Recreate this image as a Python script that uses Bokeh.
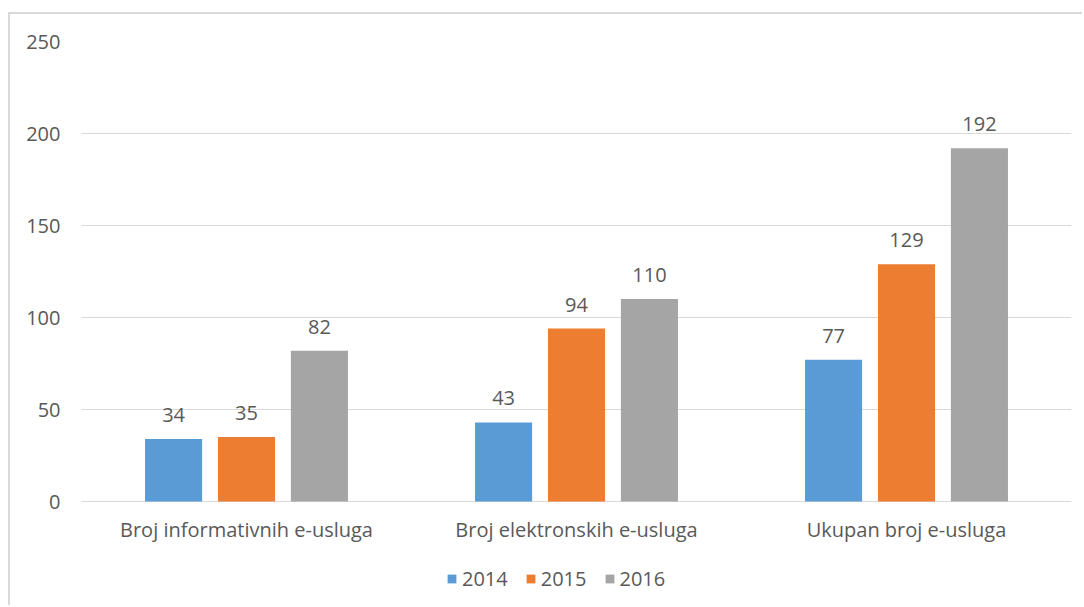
from bokeh.plotting import figure
from bokeh.models import ColumnDataSource, FactorRange, Legend, LegendItem, Range1d, FixedTicker
from bokeh.transform import dodge
from bokeh.core.properties import value
from bokeh.embed import file_html
from bokeh.resources import INLINE

categories = ["Broj informativnih e-usluga", "Broj elektronskih e-usluga", "Ukupan broj e-usluga"]
years = ["2014", "2015", "2016"]
v2014 = [34, 43, 77]
v2015 = [35, 94, 129]
v2016 = [82, 110, 192]
y_ticks = [0, 50, 100, 150, 200, 250]

colors = ["#5B9BD5", "#ED7D31", "#A5A5A5"]
FONT = "Open Sans"
FS = "20px"
TXT = "#595959"

src = ColumnDataSource(dict(
    cat=categories,
    zero=[0] * len(categories),
    v2014=v2014, v2015=v2015, v2016=v2016,
    l2014=[str(v) for v in v2014],
    l2015=[str(v) for v in v2015],
    l2016=[str(v) for v in v2016],
))

# frame extends below the zero line to leave room for category labels and legend
p = figure(width=1074, height=593, x_range=FactorRange(*categories, range_padding=0),
           y_range=Range1d(-57.6, 250), output_backend="svg", toolbar_location=None,
           x_axis_location=None,
           min_border_left=71, min_border_right=13, min_border_top=27, min_border_bottom=0)
p.styles = {"border-left": "2px solid #d9d9d9", "border-top": "2px solid #d9d9d9",
            "margin-top": "12px", "margin-left": "8px"}

p.outline_line_color = None
p.xgrid.grid_line_color = None
p.ygrid.grid_line_color = "#d9d9d9"
p.ygrid.grid_line_width = 1
p.yaxis.ticker = FixedTicker(ticks=y_ticks)
ax = p.yaxis[0]
ax.axis_line_color = None
ax.major_tick_line_color = None
ax.minor_tick_line_color = None
ax.major_tick_out = 0
ax.major_tick_in = 0
ax.major_label_text_font = FONT
ax.major_label_text_font_size = FS
ax.major_label_text_color = TXT
ax.major_label_standoff = 21

# category labels under the zero line
p.text(x="cat", y="zero", text="cat", source=src, text_align="center",
       text_baseline="alphabetic", y_offset=28,
       text_font=value(FONT), text_font_size=FS, text_color=TXT)

offs = [-0.221, 0.0, 0.221]
renderers = []
for yr, off, col in zip(years, offs, colors):
    r = p.vbar(x=dodge("cat", off, range=p.x_range), top="v" + yr, width=0.173,
               source=src, color=col, line_color=None)
    renderers.append(r)
    p.text(x=dodge("cat", off, range=p.x_range), y="v" + yr, text="l" + yr, source=src,
           text_align="center", text_baseline="alphabetic", y_offset=-24,
           text_font=value(FONT), text_font_size=FS, text_color=TXT)

legend = Legend(items=[LegendItem(label=yr, renderers=[r]) for yr, r in zip(years, renderers)],
                orientation="horizontal", location=(365, 15),
                glyph_width=11, glyph_height=11, label_text_font=FONT,
                label_text_font_size=FS, label_text_color=TXT,
                border_line_color=None, background_fill_alpha=0,
                padding=0, margin=0, spacing=17, label_standoff=5)
p.add_layout(legend, "center")

open("out.html", "w").write(file_html(p, INLINE))
